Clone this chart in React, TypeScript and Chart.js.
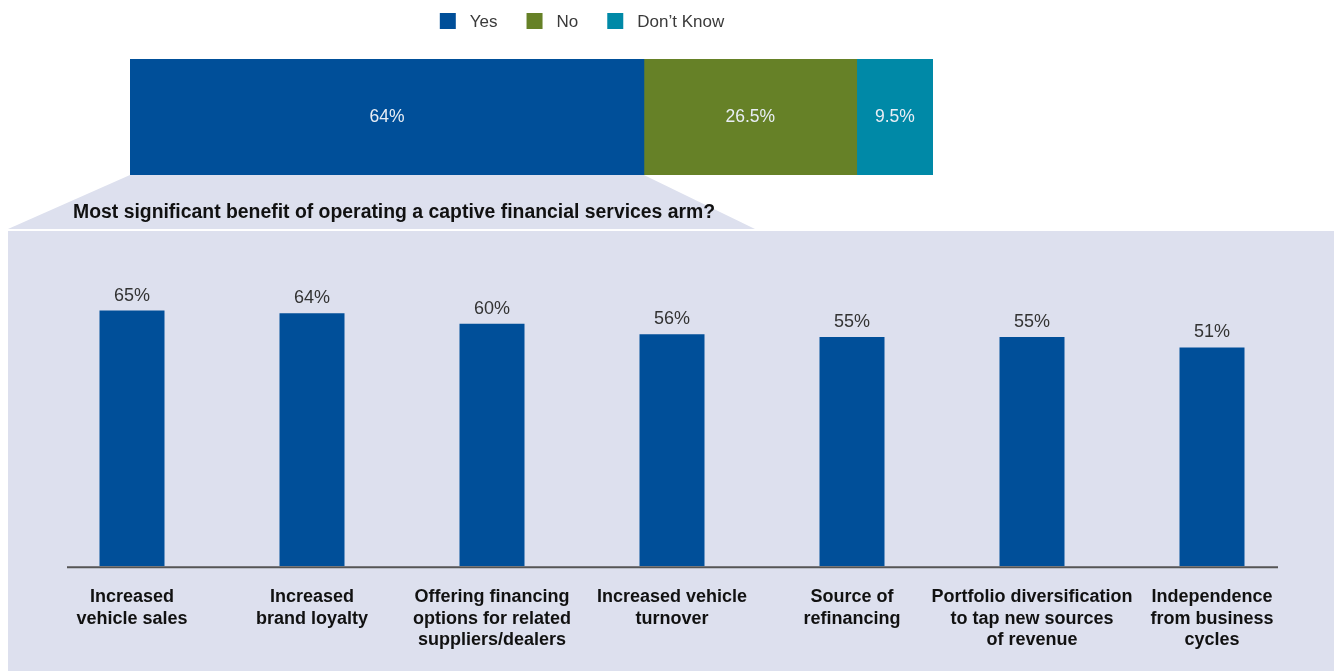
import React, { useEffect, useRef } from 'react';
import { Chart, registerables } from 'chart.js';

Chart.register(...registerables);

// ---------- data ----------
const SPLIT_LABELS = ['Yes', 'No', 'Don\u2019t Know'];
const SPLIT_VALUES = [64, 26.5, 9.5];
const SPLIT_TEXT = ['64%', '26.5%', '9.5%'];
const SPLIT_COLORS = ['#004f99', '#668127', '#0089a7'];

const TITLE = 'Most significant benefit of operating a captive financial services arm?';
const BENEFIT_LABELS = [
  ['Increased', 'vehicle sales'],
  ['Increased', 'brand loyalty'],
  ['Offering financing', 'options for related', 'suppliers/dealers'],
  ['Increased vehicle', 'turnover'],
  ['Source of', 'refinancing'],
  ['Portfolio diversification', 'to tap new sources', 'of revenue'],
  ['Independence', 'from business', 'cycles'],
];
const BENEFIT_VALUES = [65, 64, 60, 56, 55, 55, 51];
const Y_MIN = -32;
const Y_MAX = 80;

// ---------- styles ----------
const PANEL = '#dde0ee';
const BLUE = '#004f99';
const FONT = '"Liberation Sans", Arial, sans-serif';
const W = 1334;
const H = 671;

const legendPlugin = {
  id: 'customLegend',
  afterDraw(chart: any) {
    const ctx = chart.ctx;
    ctx.save();
    ctx.font = `17px ${FONT}`;
    const box = 16;
    const gapText = 14;
    const gapItem = 29;
    const widths = SPLIT_LABELS.map((l) => ctx.measureText(l).width);
    let total = 0;
    widths.forEach((w, i) => {
      total += box + gapText + w + (i < widths.length - 1 ? gapItem : 0);
    });
    let x = 582 - total / 2;
    const cy = 21;
    SPLIT_LABELS.forEach((l, i) => {
      ctx.fillStyle = SPLIT_COLORS[i];
      ctx.fillRect(x, cy - box / 2, box, box);
      ctx.fillStyle = '#3a3a3a';
      ctx.textBaseline = 'middle';
      ctx.textAlign = 'left';
      ctx.fillText(l, x + box + gapText, cy + 1);
      x += box + gapText + widths[i] + gapItem;
    });
    ctx.restore();
  },
};

const trapezoidPlugin = {
  id: 'trapezoid',
  beforeDatasetsDraw(chart: any) {
    const el = chart.getDatasetMeta(0).data[0];
    if (!el) return;
    const p = el.getProps(['x', 'y', 'base', 'height'], true);
    const topY = p.y + p.height / 2;
    const ctx = chart.ctx;
    ctx.save();
    ctx.fillStyle = PANEL;
    ctx.beginPath();
    ctx.moveTo(p.base, topY);
    ctx.lineTo(p.x, topY);
    ctx.lineTo(755, chart.height - 2);
    ctx.lineTo(8, chart.height - 2);
    ctx.closePath();
    ctx.fill();
    ctx.restore();
  },
};

const segLabelPlugin = {
  id: 'segLabels',
  afterDatasetsDraw(chart: any) {
    const ctx = chart.ctx;
    ctx.save();
    ctx.font = `17.5px ${FONT}`;
    ctx.fillStyle = '#e9eef5';
    ctx.textAlign = 'center';
    ctx.textBaseline = 'middle';
    chart.data.datasets.forEach((_: any, i: number) => {
      const el = chart.getDatasetMeta(i).data[0];
      const p = el.getProps(['x', 'y', 'base'], true);
      ctx.fillText(SPLIT_TEXT[i], (p.x + p.base) / 2, p.y);
    });
    ctx.restore();
  },
};

const titlePlugin = {
  id: 'panelTitle',
  afterDraw(chart: any) {
    const ctx = chart.ctx;
    ctx.save();
    ctx.font = `bold 19.4px ${FONT}`;
    ctx.fillStyle = '#111111';
    ctx.textAlign = 'left';
    ctx.textBaseline = 'middle';
    ctx.fillText(TITLE, 73, 38);
    ctx.restore();
  },
};

const valueLabelPlugin = {
  id: 'valueLabels',
  afterDatasetsDraw(chart: any) {
    const ctx = chart.ctx;
    const area = chart.chartArea;
    ctx.save();
    // axis base line
    ctx.strokeStyle = '#555555';
    ctx.lineWidth = 2;
    ctx.beginPath();
    ctx.moveTo(area.left + 25, area.bottom + 1);
    ctx.lineTo(area.right - 24, area.bottom + 1);
    ctx.stroke();
    // value labels
    ctx.font = `18px ${FONT}`;
    ctx.fillStyle = '#333333';
    ctx.textAlign = 'center';
    ctx.textBaseline = 'alphabetic';
    chart.getDatasetMeta(0).data.forEach((el: any, i: number) => {
      const p = el.getProps(['x', 'y'], true);
      ctx.fillText(`${BENEFIT_VALUES[i]}%`, p.x, p.y - 10);
    });
    ctx.restore();
  },
};

export default function App() {
  const topRef = useRef<HTMLCanvasElement>(null);
  const botRef = useRef<HTMLCanvasElement>(null);

  useEffect(() => {
    document.body.style.margin = '0';
    const top = new Chart(topRef.current as HTMLCanvasElement, {
      type: 'bar',
      data: {
        labels: [''],
        datasets: SPLIT_LABELS.map((l, i) => ({
          label: l,
          data: [SPLIT_VALUES[i]],
          backgroundColor: SPLIT_COLORS[i],
          borderWidth: 0,
          barPercentage: 1,
          categoryPercentage: 1,
        })),
      },
      options: {
        indexAxis: 'y',
        responsive: false,
        animation: false,
        layout: { padding: { left: 130, right: W - 933, top: 59, bottom: 231 - 175 } },
        scales: {
          x: { stacked: true, min: 0, max: 100, display: false },
          y: { stacked: true, display: false },
        },
        plugins: { legend: { display: false }, tooltip: { enabled: false } },
      },
      plugins: [trapezoidPlugin, segLabelPlugin, legendPlugin],
    } as any);

    const bot = new Chart(botRef.current as HTMLCanvasElement, {
      type: 'bar',
      data: {
        labels: BENEFIT_LABELS,
        datasets: [
          {
            label: 'Benefit',
            data: BENEFIT_VALUES,
            backgroundColor: BLUE,
            borderWidth: 0,
            base: Y_MIN,
            barPercentage: 65 / 180,
            categoryPercentage: 1,
          },
        ],
      },
      options: {
        responsive: false,
        animation: false,
        layout: { padding: { left: 42, right: 32, top: 96, bottom: 0 } },
        scales: {
          x: {
            grid: { display: false, drawTicks: false },
            border: { display: false },
            ticks: {
              font: { family: FONT, size: 18, weight: 'bold', lineHeight: 1.2 },
              color: '#111111',
              padding: 20,
              maxRotation: 0,
              autoSkip: false,
            },
          },
          y: { display: false, min: Y_MIN, max: Y_MAX },
        },
        plugins: { legend: { display: false }, tooltip: { enabled: false } },
      },
      plugins: [titlePlugin, valueLabelPlugin],
    } as any);

    return () => {
      top.destroy();
      bot.destroy();
    };
  }, []);

  return (
    <div style={{ position: 'relative', width: W, height: H, background: '#ffffff', overflow: 'hidden' }}>
      <div style={{ position: 'absolute', left: 8, top: 231, width: W - 8, height: H - 231, background: PANEL }} />
      <canvas
        ref={topRef}
        width={W}
        height={231}
        style={{ position: 'absolute', left: 0, top: 0, width: W, height: 231 }}
      />
      <canvas
        ref={botRef}
        width={W}
        height={H - 175}
        style={{ position: 'absolute', left: 0, top: 175, width: W, height: H - 175 }}
      />
    </div>
  );
}
